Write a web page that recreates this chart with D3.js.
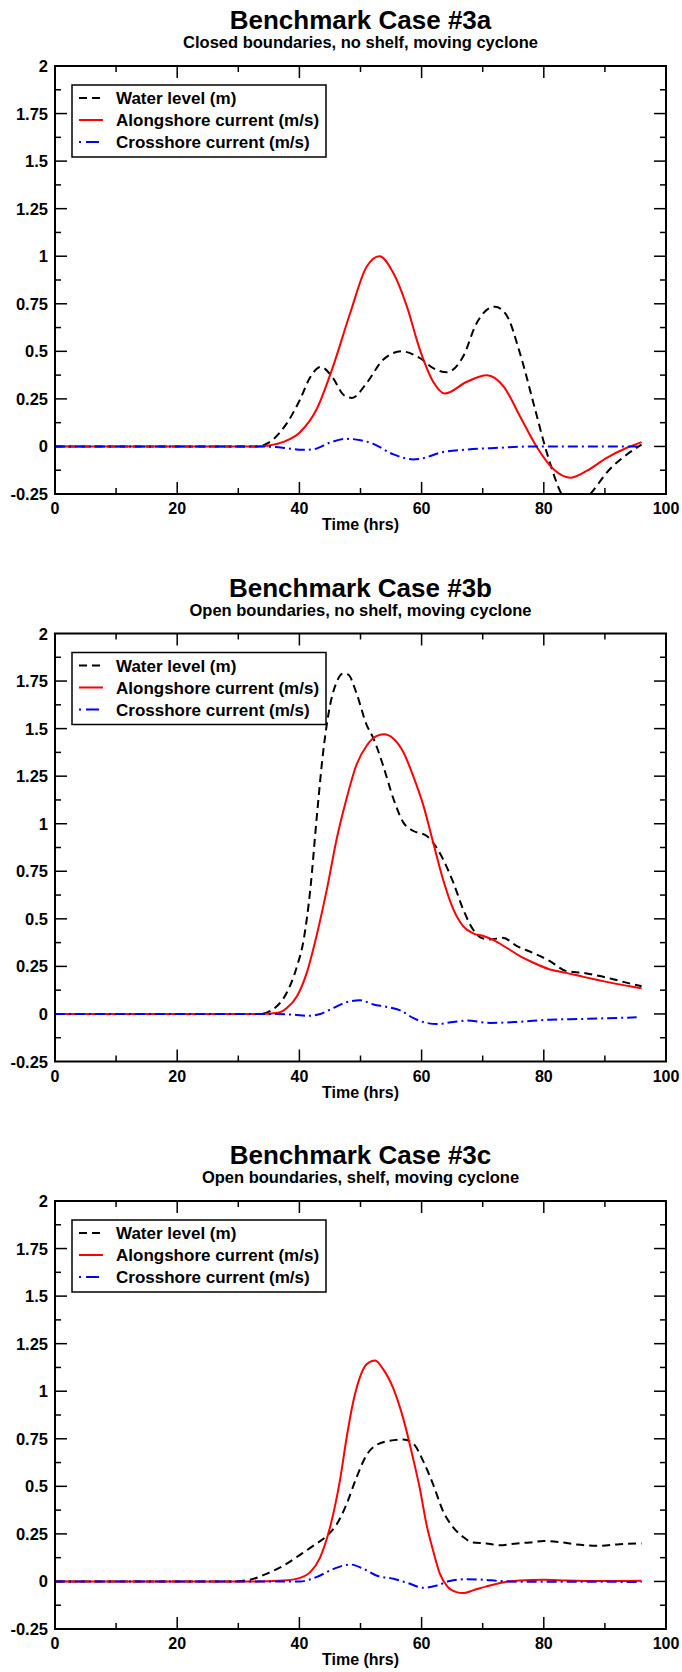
<!DOCTYPE html>
<html>
<head>
<meta charset="utf-8">
<script src="https://cdn.jsdelivr.net/npm/d3@7/dist/d3.min.js"></script>
<style>
body { margin: 0; background: #fff; }
text { font-family: "Liberation Sans", Arial, sans-serif; font-weight: bold; fill: #000; }
</style>
</head>
<body>
<div id="chart"></div>
<script>
// titles and axis ticks
const titles = ["Benchmark Case #3a", "Benchmark Case #3b", "Benchmark Case #3c"];
const subtitles = ["Closed boundaries, no shelf, moving cyclone",
                   "Open boundaries, no shelf, moving cyclone",
                   "Open boundaries, shelf, moving cyclone"];
const xTicks = [0, 20, 40, 60, 80, 100];
const yTicks = [-0.25, 0, 0.25, 0.5, 0.75, 1, 1.25, 1.5, 1.75, 2];
const seriesNames = ["Water level (m)", "Alongshore current (m/s)", "Crosshore current (m/s)"];

// [hour, value]
const water3a = [[0,0],[33,0],[34.5,0.012],[35.7,0.037],[37.9,0.12],[40.1,0.246],[41.7,0.36],[43.5,0.418],[45.5,0.36],[47.2,0.272],[48.6,0.255],[51,0.333],[53.7,0.456],[56.7,0.5],[59.7,0.465],[61.9,0.412],[64.1,0.39],[66.8,0.473],[69,0.648],[72,0.735],[73.9,0.69],[76.1,0.49],[78.3,0.229],[80.5,-0.033],[82.9,-0.25],[85.2,-0.33],[87.6,-0.25],[90.8,-0.12],[93.6,-0.042],[96,0.01]];
const along3a = [[0,0],[33,0],[35,0.005],[37.5,0.025],[40.1,0.075],[42.8,0.194],[45.5,0.42],[48.3,0.70],[51,0.945],[53.1,1.0],[55.4,0.91],[57.6,0.735],[59.7,0.51],[61.9,0.34],[63.8,0.278],[67.4,0.34],[70.7,0.374],[73.4,0.316],[76.1,0.159],[78.8,0.0],[81.6,-0.12],[84.3,-0.164],[87,-0.129],[90.3,-0.06],[93.6,-0.007],[96,0.023]];
const cross3a = [[0,0],[33,0],[36,-0.003],[38.5,-0.012],[40.5,-0.018],[42.3,-0.015],[45,0.02],[47.7,0.04],[50,0.033],[52,0.015],[55.4,-0.042],[58.6,-0.068],[60.5,-0.06],[63,-0.033],[67.4,-0.016],[72.8,-0.007],[78.3,0],[96,0]];

const water3b = [[0,0],[33.5,0],[36.3,0.04],[37.9,0.11],[39.6,0.25],[40.7,0.39],[41.8,0.66],[42.8,1.02],[43.9,1.38],[45,1.62],[46.1,1.745],[47.2,1.79],[48,1.784],[49.3,1.69],[51,1.52],[52.1,1.45],[53.7,1.306],[55.4,1.13],[57,1.007],[58.6,0.963],[60.8,0.937],[61.9,0.9],[63.5,0.814],[65.2,0.69],[66.8,0.55],[68.4,0.445],[69.8,0.40],[71.2,0.392],[73.3,0.40],[75.6,0.357],[78.3,0.32],[81,0.278],[83.7,0.225],[86.5,0.216],[89.2,0.199],[91.9,0.178],[94.7,0.155],[96,0.146]];
const along3b = [[0,0],[33.5,0],[36.3,0.005],[37.9,0.03],[39.6,0.093],[41.2,0.216],[42.8,0.41],[44.5,0.656],[46.1,0.92],[47.7,1.13],[49.3,1.306],[51,1.41],[52.6,1.46],[53.8,1.47],[55.4,1.447],[57,1.377],[58.6,1.253],[60.3,1.095],[61.9,0.9],[63.5,0.708],[65.2,0.55],[66.8,0.462],[68.4,0.424],[70.1,0.41],[71.7,0.389],[73.9,0.348],[76.1,0.304],[78.3,0.269],[81,0.234],[83.7,0.216],[86.5,0.195],[89.2,0.176],[91.9,0.158],[94.7,0.142],[96,0.135]];
const cross3b = [[0,0],[36.3,0],[39,-0.004],[41.8,-0.01],[43.4,0],[45.6,0.032],[47.7,0.062],[49.9,0.072],[52.1,0.05],[54.3,0.037],[56.5,0.019],[58.6,-0.021],[60.8,-0.047],[62.5,-0.053],[65.2,-0.042],[67.4,-0.035],[71.2,-0.047],[75.6,-0.042],[81,-0.03],[86.5,-0.026],[91.9,-0.021],[95.2,-0.018]];

const water3c = [[0,0],[29.2,0],[31.9,0.009],[34.6,0.04],[37.4,0.083],[40.1,0.14],[42.3,0.188],[44.5,0.24],[46.1,0.30],[47.7,0.405],[49.3,0.543],[51,0.665],[52.6,0.717],[54.8,0.74],[57,0.746],[58.6,0.726],[60.3,0.63],[61.9,0.509],[63.5,0.37],[65.2,0.283],[66.8,0.234],[68.4,0.205],[70.6,0.2],[72.8,0.19],[75.6,0.2],[77.7,0.205],[80,0.213],[82.6,0.207],[85.4,0.194],[89.2,0.1875],[92.4,0.196],[96,0.2]];
const along3c = [[0,0],[31.9,0],[37.4,0.005],[40.1,0.019],[41.8,0.05],[43.4,0.127],[45,0.283],[46.7,0.543],[47.7,0.75],[48.8,0.943],[49.9,1.073],[51,1.142],[52.4,1.161],[53.7,1.116],[55.4,1.012],[57,0.856],[58.6,0.648],[59.7,0.49],[60.8,0.3],[61.9,0.16],[63,0.04],[64.3,-0.03],[65.7,-0.056],[66.8,-0.061],[68.4,-0.047],[70.6,-0.026],[73.3,-0.005],[76.1,0.005],[80,0.009],[83.7,0.005],[89.2,0.002],[96,0.003]];
const cross3c = [[0,0],[40.1,0],[42.8,0.023],[45.6,0.066],[48.3,0.089],[50.5,0.066],[52.6,0.031],[55.4,0.014],[57.6,-0.007],[60.3,-0.033],[62.5,-0.021],[64.6,0.002],[67.4,0.012],[70.1,0.009],[72.8,0.002],[78.3,-0.002],[89.2,-0.002],[96,-0.003]];

const panels = [[water3a, along3a, cross3a], [water3b, along3b, cross3b], [water3c, along3c, cross3c]];

const width = 682, height = 1672;
const margin = {left: 55, right: 16, top: 66};
const plotH = 428, panelStep = 567.5;
const styles = [
    {color: "#000", dash: "8,5"},
    {color: "#ff0000", dash: null},
    {color: "#0000ff", dash: "10,4,2,4"}
];

const svg = d3.select("#chart").append("svg")
    .attr("width", width).attr("height", height);

const x = d3.scaleLinear().domain([0, 100]).range([margin.left, width - margin.right]);

panels.forEach((series, i) => {
    const top = margin.top + i * panelStep;
    const y = d3.scaleLinear().domain([-0.25, 2]).range([top + plotH, top]);
    const g = svg.append("g");

    g.append("text").attr("x", (x(0) + x(100)) / 2).attr("y", top - 37)
        .attr("text-anchor", "middle").style("font-size", "26px").text(titles[i]);
    g.append("text").attr("x", (x(0) + x(100)) / 2).attr("y", top - 18)
        .attr("text-anchor", "middle").style("font-size", "16.5px").text(subtitles[i]);

    // ticks inside the frame on all four sides
    const xMinor = d3.range(0, 101, 10), yMinor = d3.range(-0.25, 2.01, 0.125);
    const tick = (x1, y1, x2, y2) => g.append("line")
        .attr("x1", x1).attr("y1", y1).attr("x2", x2).attr("y2", y2)
        .attr("stroke", "#000").attr("stroke-width", 1.5);
    xMinor.forEach(t => {
        const len = t % 20 === 0 ? 12 : 6;
        if (t === 0 || t === 100) return;
        tick(x(t), top + plotH, x(t), top + plotH - len);
        tick(x(t), top, x(t), top + len);
    });
    yMinor.forEach(t => {
        const len = Math.abs((t / 0.25) - Math.round(t / 0.25)) < 1e-6 ? 12 : 6;
        if (t <= -0.25 || t >= 2) return;
        tick(x(0), y(t), x(0) + len, y(t));
        tick(x(100), y(t), x(100) - len, y(t));
    });

    g.selectAll(".xl").data(xTicks).join("text")
        .attr("x", d => x(d)).attr("y", top + plotH + 20)
        .attr("text-anchor", "middle").style("font-size", "16px").text(d => d);
    g.selectAll(".yl").data(yTicks).join("text")
        .attr("x", x(0) - 7).attr("y", d => y(d) + 6)
        .attr("text-anchor", "end").style("font-size", "16.5px").text(d => d);
    g.append("text").attr("x", (x(0) + x(100)) / 2).attr("y", top + plotH + 36)
        .attr("text-anchor", "middle").style("font-size", "16px").text("Time (hrs)");

    const clipId = "clip" + i;
    svg.append("clipPath").attr("id", clipId).append("rect")
        .attr("x", x(0)).attr("y", top).attr("width", x(100) - x(0)).attr("height", plotH);

    const line = d3.line().x(d => x(d[0])).y(d => y(d[1])).curve(d3.curveMonotoneX);
    series.forEach((s, k) => {
        g.append("path").datum(s)
            .attr("clip-path", `url(#${clipId})`)
            .attr("fill", "none").attr("stroke", styles[k].color)
            .attr("stroke-width", 2).attr("stroke-dasharray", styles[k].dash)
            .attr("d", line);
    });

    // legend
    const lx = x(0) + 17, ly = top + 19;
    g.append("rect").attr("x", lx).attr("y", ly).attr("width", 254).attr("height", 72)
        .attr("fill", "#fff").attr("stroke", "#000").attr("stroke-width", 1.5);
    seriesNames.forEach((name, k) => {
        const yy = ly + 13 + k * 22;
        g.append("line").attr("x1", lx + 7).attr("x2", lx + 31).attr("y1", yy).attr("y2", yy)
            .attr("stroke", styles[k].color).attr("stroke-width", 2)
            .attr("stroke-dasharray", k === 2 ? "2,5,13,4" : styles[k].dash);
        g.append("text").attr("x", lx + 44).attr("y", yy + 6)
            .style("font-size", "17px").text(name);
    });

    g.append("rect").attr("x", x(0)).attr("y", top).attr("width", x(100) - x(0)).attr("height", plotH)
        .attr("fill", "none").attr("stroke", "#000").attr("stroke-width", 2);
});
</script>
</body>
</html>
